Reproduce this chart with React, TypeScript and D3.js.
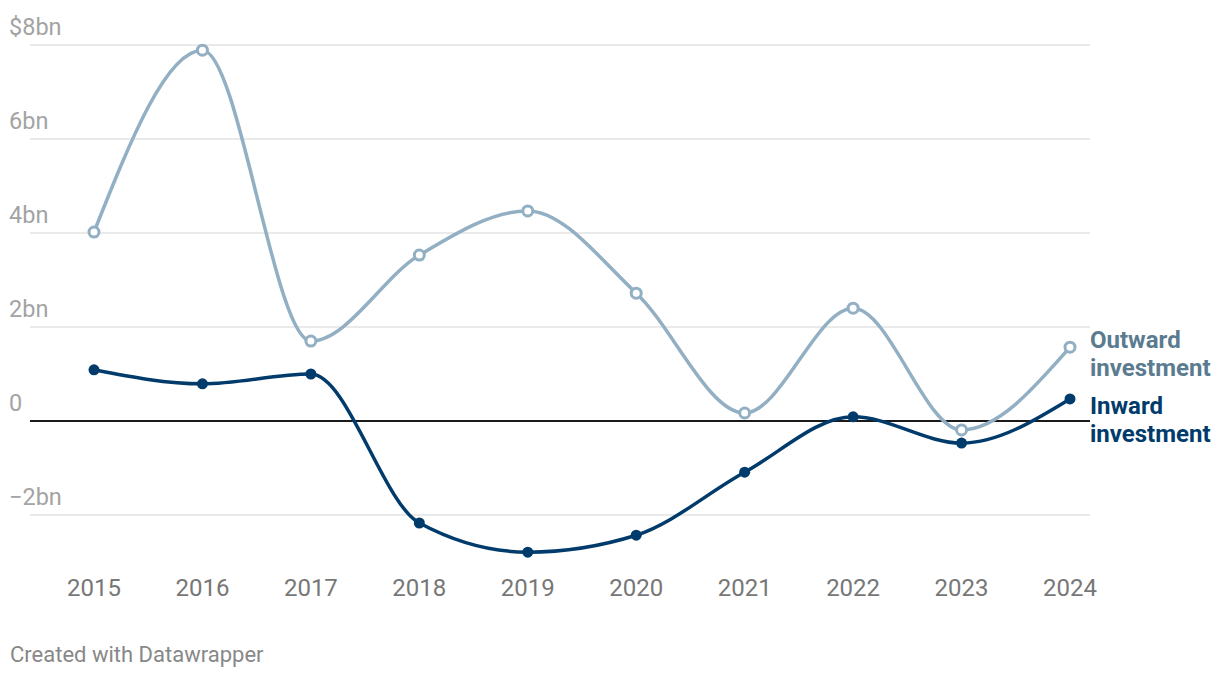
import React, { useEffect, useRef } from "react";
import * as d3 from "d3";

const years = [2015, 2016, 2017, 2018, 2019, 2020, 2021, 2022, 2023, 2024];
const outward = [4.02, 7.89, 1.7, 3.53, 4.47, 2.72, 0.17, 2.4, -0.19, 1.57];
const inward = [1.09, 0.79, 1.0, -2.17, -2.79, -2.43, -1.09, 0.09, -0.47, 0.47];
const yTicks = [-2, 0, 2, 4, 6, 8];

const outwardColor = "#92afc3";
const inwardColor = "#003b6b";

export default function App() {
  const svgRef = useRef(null);

  useEffect(() => {
    const svg = d3.select(svgRef.current);
    const width = 1220;
    const height = 678;

    svg.selectAll("*").remove();

    const x = d3.scaleLinear().domain([2015, 2024]).range([94, 1070]);
    const y = d3.scaleLinear().domain([0, 8]).range([421, 45]);

    const font = "Roboto, sans-serif";

    // gridlines + y labels
    const grid = svg.append("g");
    yTicks.forEach((t) => {
      grid
        .append("line")
        .attr("x1", 30)
        .attr("x2", 1090)
        .attr("y1", y(t))
        .attr("y2", y(t))
        .attr("stroke", t === 0 ? "#1a1a1a" : "#e3e3e3")
        .attr("stroke-width", t === 0 ? 2 : 1.5);
      const label = t === 8 ? "$8bn" : t === 0 ? "0" : t < 0 ? `\u2212${-t}bn` : `${t}bn`;
      grid
        .append("text")
        .attr("x", 9)
        .attr("y", y(t) - 10)
        .attr("font-family", font)
        .attr("font-size", 23.5)
        .attr("fill", "#a3a3a3")
        .text(label);
    });

    // x labels
    svg
      .append("g")
      .selectAll("text")
      .data(years)
      .enter()
      .append("text")
      .attr("x", (d) => x(d))
      .attr("y", 596)
      .attr("text-anchor", "middle")
      .attr("font-family", font)
      .attr("font-size", 24)
      .attr("fill", "#777")
      .text((d) => d);

    const line = d3
      .line<number>()
      .x((_, i) => x(years[i]))
      .y((d) => y(d))
      .curve(d3.curveMonotoneX);

    svg
      .append("path")
      .attr("d", line(outward))
      .attr("fill", "none")
      .attr("stroke", outwardColor)
      .attr("stroke-width", 3.5);

    svg
      .append("path")
      .attr("d", line(inward))
      .attr("fill", "none")
      .attr("stroke", inwardColor)
      .attr("stroke-width", 3.5);

    svg
      .append("g")
      .selectAll("circle")
      .data(outward)
      .enter()
      .append("circle")
      .attr("cx", (_, i) => x(years[i]))
      .attr("cy", (d) => y(d))
      .attr("r", 5)
      .attr("fill", "#fff")
      .attr("stroke", outwardColor)
      .attr("stroke-width", 3);

    svg
      .append("g")
      .selectAll("circle")
      .data(inward)
      .enter()
      .append("circle")
      .attr("cx", (_, i) => x(years[i]))
      .attr("cy", (d) => y(d))
      .attr("r", 5.5)
      .attr("fill", inwardColor);

    // series labels
    const labels = [
      { lines: ["Outward", "investment"], y: 348, color: "#5b7b90" },
      { lines: ["Inward", "investment"], y: 414, color: inwardColor },
    ];
    labels.forEach((l) => {
      l.lines.forEach((s, j) => {
        svg
          .append("text")
          .attr("x", 1090)
          .attr("y", l.y + j * 28)
          .attr("font-family", font)
          .attr("font-size", 24)
          .attr("font-weight", 700)
          .attr("fill", l.color)
          .text(s);
      });
    });

    svg
      .append("text")
      .attr("x", 10)
      .attr("y", 662)
      .attr("font-family", font)
      .attr("font-size", 22)
      .attr("fill", "#888")
      .text("Created with Datawrapper");

    svg.attr("width", width).attr("height", height);
  }, []);

  return (
    <svg
      ref={svgRef}
      width={1220}
      height={678}
      style={{ position: "absolute", left: 0, top: 0, background: "#fff" }}
    />
  );
}
